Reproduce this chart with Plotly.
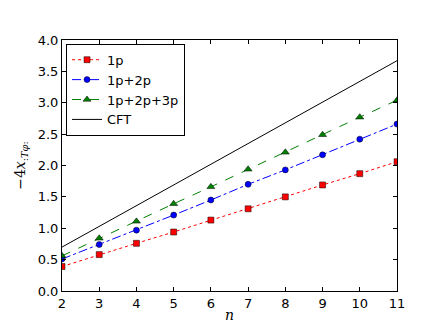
import plotly.graph_objects as go

n = [2, 3, 4, 5, 6, 7, 8, 9, 10, 11]
one_p = [0.39, 0.58, 0.76, 0.94, 1.13, 1.31, 1.50, 1.69, 1.87, 2.06]
one_two_p = [0.51, 0.74, 0.97, 1.21, 1.45, 1.70, 1.93, 2.17, 2.42, 2.66]
one_two_three_p = [0.56, 0.84, 1.11, 1.39, 1.66, 1.94, 2.21, 2.49, 2.77, 3.04]
cft = [0.70, 1.03, 1.36, 1.69, 2.02, 2.35, 2.68, 3.01, 3.34, 3.67]

x_ticks = [2, 3, 4, 5, 6, 7, 8, 9, 10, 11]
y_ticks = [0.0, 0.5, 1.0, 1.5, 2.0, 2.5, 3.0, 3.5, 4.0]

fig = go.Figure()
fig.add_trace(go.Scatter(
    x=n, y=one_p, name="1p", mode="lines+markers",
    line=dict(color="#ff0000", dash="dot", width=1),
    marker=dict(symbol="square", size=6, color="#ff0000",
                line=dict(color="black", width=0.5)),
))
fig.add_trace(go.Scatter(
    x=n, y=one_two_p, name="1p+2p", mode="lines+markers",
    line=dict(color="#0000ff", dash="dashdot", width=1),
    marker=dict(symbol="circle", size=6, color="#0000ff",
                line=dict(color="black", width=0.5)),
))
fig.add_trace(go.Scatter(
    x=n, y=one_two_three_p, name="1p+2p+3p", mode="lines+markers",
    line=dict(color="#008000", dash="dash", width=1),
    marker=dict(symbol="triangle-up", size=7, color="#008000",
                line=dict(color="black", width=0.5)),
))
fig.add_trace(go.Scatter(
    x=n, y=cft, name="CFT", mode="lines",
    line=dict(color="black", width=1),
))

axis_common = dict(
    showgrid=False, zeroline=False, showline=True, linecolor="black",
    linewidth=1, mirror="ticks", ticks="inside", ticklen=4,
    tickcolor="black", tickfont=dict(family="DejaVu Sans", size=13, color="black"),
)

fig.update_layout(
    width=432, height=324,
    margin=dict(l=54, r=43, t=32, b=33),
    paper_bgcolor="white", plot_bgcolor="white",
    showlegend=True,
    legend=dict(
        x=0.012, y=0.985, xanchor="left", yanchor="top",
        bordercolor="black", borderwidth=1, bgcolor="white",
        font=dict(family="DejaVu Sans", size=13, color="black"),
        tracegroupgap=0, itemwidth=30,
    ),
    xaxis=dict(
        range=[2, 11], tickvals=x_ticks,
        title=dict(text="<i>n</i>", font=dict(family="DejaVu Serif", size=14, color="black"),
                   standoff=0),
        **axis_common,
    ),
    yaxis=dict(
        range=[0, 4], tickvals=y_ticks, tickformat=".1f",
        title=dict(text="−4<i>x</i><sub>:<i>Tφ</i>:</sub>",
                   font=dict(family="DejaVu Serif", size=14, color="black"), standoff=8),
        **axis_common,
    ),
)

fig.write_html("out.html")
